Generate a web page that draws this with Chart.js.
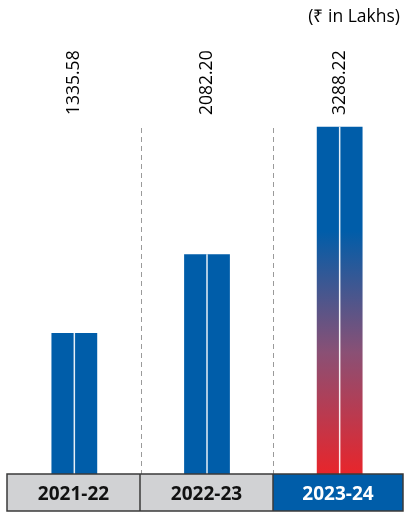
<!DOCTYPE html>
<html>
<head>
<meta charset="utf-8">
<script src="https://cdn.jsdelivr.net/npm/chart.js@4"></script>
<style>
  html, body { margin: 0; padding: 0; background: #fff; }
  #wrap { width: 406px; height: 514px; }
</style>
</head>
<body>
<div id="wrap"><canvas id="revChart" width="406" height="514"></canvas></div>
<script>
const years = ["2021-22", "2022-23", "2023-24"];
const revenue = [1335.58, 2082.20, 3288.22];
const valueLabels = ["1335.58", "2082.20", "3288.22"];
const unitNote = "(\u20B9 in Lakhs)";

const BLUE = "#005da9";
const RED = "#e8252b";
const GREY = "#d1d2d4";

function barFill(context) {
  const chart = context.chart;
  const area = chart.chartArea;
  if (!area) return BLUE;
  if (context.dataIndex !== revenue.length - 1) return BLUE;
  const top = chart.scales.y.getPixelForValue(revenue[context.dataIndex]);
  const g = chart.ctx.createLinearGradient(0, top, 0, area.bottom);
  g.addColorStop(0, BLUE);
  g.addColorStop(0.3, BLUE);
  g.addColorStop(0.65, "#8a5075");
  g.addColorStop(1, RED);
  return g;
}

const decor = {
  id: "decor",
  beforeDatasetsDraw(chart) {
    const { ctx, chartArea, scales } = chart;
    const x = scales.x;
    // dashed separators
    ctx.save();
    ctx.strokeStyle = "#9a9a9a";
    ctx.lineWidth = 1;
    ctx.setLineDash([5, 4]);
    for (let i = 0; i < years.length - 1; i++) {
      const px = Math.round((x.getPixelForValue(i) + x.getPixelForValue(i + 1)) / 2) + 0.5;
      ctx.beginPath();
      ctx.moveTo(px, 128);
      ctx.lineTo(px, chartArea.bottom);
      ctx.stroke();
    }
    ctx.restore();
  },
  afterDatasetsDraw(chart) {
    const { ctx, chartArea } = chart;
    const meta = chart.getDatasetMeta(0);
    ctx.save();
    // white centre line in each bar
    meta.data.forEach((bar) => {
      ctx.strokeStyle = "rgba(255,255,255,0.9)";
      ctx.lineWidth = 1.5;
      ctx.beginPath();
      ctx.moveTo(bar.x, bar.y);
      ctx.lineTo(bar.x, chartArea.bottom);
      ctx.stroke();
    });
    // rotated value labels, all starting at the same height
    ctx.fillStyle = "#000";
    ctx.font = "17.5px 'Open Sans'";
    ctx.textAlign = "left";
    ctx.textBaseline = "middle";
    meta.data.forEach((bar, i) => {
      ctx.save();
      ctx.translate(bar.x, 115);
      ctx.rotate(-Math.PI / 2);
      ctx.fillText(valueLabels[i], 0, 0);
      ctx.restore();
    });
    // unit note
    ctx.textAlign = "right";
    ctx.font = "17.5px 'Open Sans'";
    ctx.fillText(unitNote, 400, 17);
    // category boxes
    const bTop = chartArea.bottom;
    const bBot = 511;
    const xs = [7, 140, 273, 403];
    ctx.font = "bold 19px 'Open Sans'";
    ctx.textAlign = "center";
    for (let i = 0; i < years.length; i++) {
      const last = i === years.length - 1;
      ctx.fillStyle = last ? BLUE : GREY;
      ctx.fillRect(xs[i], bTop, xs[i + 1] - xs[i], bBot - bTop);
      ctx.fillStyle = last ? "#fff" : "#111";
      ctx.fillText(years[i], (xs[i] + xs[i + 1]) / 2, (bTop + bBot) / 2 + 2);
    }
    ctx.strokeStyle = "#3a3a3a";
    ctx.lineWidth = 1.5;
    ctx.setLineDash([]);
    ctx.strokeRect(xs[0], bTop, xs[3] - xs[0], bBot - bTop);
    for (let i = 1; i < 3; i++) {
      ctx.beginPath();
      ctx.moveTo(xs[i], bTop);
      ctx.lineTo(xs[i], bBot);
      ctx.stroke();
    }
    ctx.restore();
  }
};

const chart = new Chart(document.getElementById("revChart").getContext("2d"), {
  type: "bar",
  data: {
    labels: years,
    datasets: [{
      data: revenue,
      backgroundColor: barFill,
      borderWidth: 0,
      categoryPercentage: 1,
      barPercentage: 0.345
    }]
  },
  options: {
    responsive: false,
    animation: false,
    layout: { padding: { left: 8, right: 0, top: 20, bottom: 40 } },
    plugins: { legend: { display: false }, tooltip: { enabled: false } },
    scales: {
      x: { display: false, offset: true },
      y: { display: false, min: 0, max: 4300 }
    }
  },
  plugins: [decor]
});

window.chart = chart;
</script>
</body>
</html>
